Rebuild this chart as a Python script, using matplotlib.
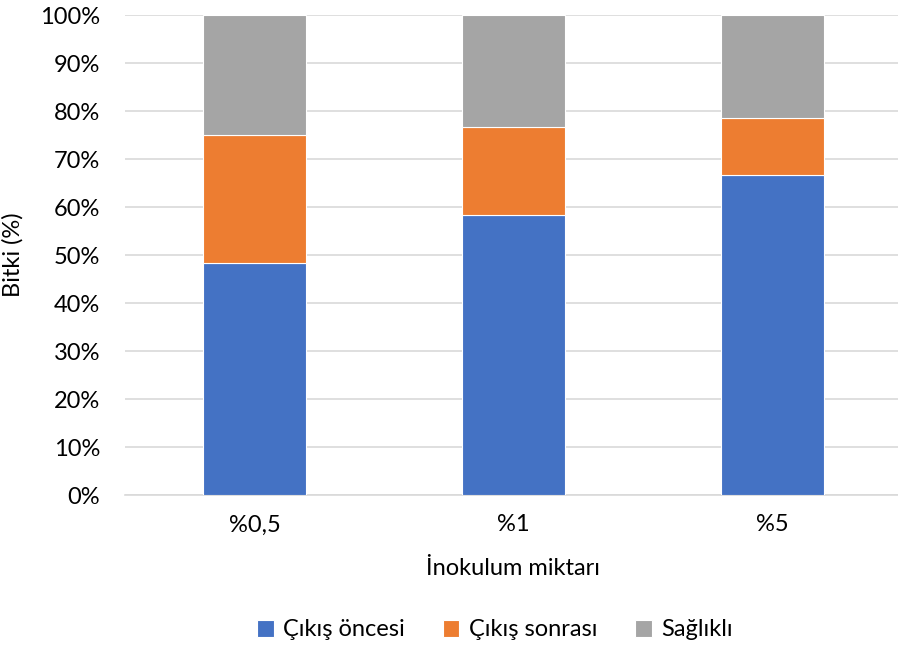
import numpy as np
import matplotlib
matplotlib.use("Agg")
from matplotlib import pyplot as plt
from matplotlib.ticker import FuncFormatter

plt.rcParams['font.family'] = ['Lato', 'DejaVu Sans']

# Inoculum amounts and share of plants in each state (%)
categories = ['%0,5', '%1', '%5']
series_names = ['Çıkış öncesi', 'Çıkış sonrası', 'Sağlıklı']
cikis_oncesi = [48.3, 58.3, 66.7]
cikis_sonrasi = [26.7, 18.4, 11.8]
saglikli = [25.0, 23.3, 21.5]
colors = ['#4472c4', '#ed7d31', '#a5a5a5']

fs = 17

fig = plt.figure(figsize=(8.98, 6.51), dpi=100)
ax = fig.add_axes([125/898, 1 - 495/651, 777/898, 480/651])

x = np.arange(len(categories))
bottom = np.zeros(len(categories))
for name, vals, c in zip(series_names, [cikis_oncesi, cikis_sonrasi, saglikli], colors):
    ax.bar(x, vals, width=0.395, bottom=bottom, color=c, label=name,
           edgecolor='white', linewidth=0.8, zorder=3)
    bottom += np.array(vals)

ax.set_xlim(-0.5, 2.5)
ax.set_ylim(0, 100)
ax.set_yticks(np.arange(0, 101, 10))
ax.yaxis.set_major_formatter(FuncFormatter(lambda v, p: f'{v:.0f}%'))
ax.set_xticks(x)
ax.set_xticklabels(categories)
ax.tick_params(axis='both', length=0, labelsize=fs, colors='#000000')
ax.tick_params(axis='y', pad=18)
ax.tick_params(axis='x', pad=14)
ax.grid(axis='y', color='#d9d9d9', linewidth=1.2, zorder=0)
for s in ['top', 'right', 'left']:
    ax.spines[s].set_visible(False)
ax.spines['bottom'].set_color('#d9d9d9')
ax.spines['bottom'].set_linewidth(1.2)

ax.set_ylabel('Bitki (%)', fontsize=fs, labelpad=12)
ax.set_xlabel('İnokulum miktarı', fontsize=fs, labelpad=16)

ax.legend(loc='center', bbox_to_anchor=(495/898, 1 - 630/651), bbox_transform=fig.transFigure,
          ncol=3, frameon=False, fontsize=fs, handlelength=0.7, handleheight=0.7,
          handletextpad=0.4, columnspacing=1.6)

fig.savefig('out.png', dpi=100)
